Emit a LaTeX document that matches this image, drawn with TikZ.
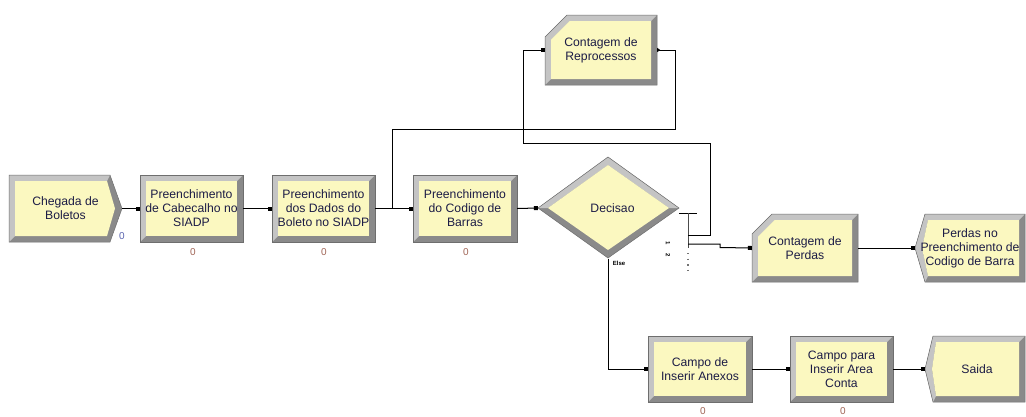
\documentclass[tikz,border=0pt]{standalone}
\usepackage{fontspec}
\setmainfont{Liberation Sans}
\usetikzlibrary{arrows.meta}
\definecolor{yel}{RGB}{251,248,192}
\definecolor{bevlight}{RGB}{196,196,196}
\definecolor{bevdark}{RGB}{138,138,138}
\definecolor{edgec}{RGB}{110,110,110}
\definecolor{txt}{RGB}{28,28,70}
\definecolor{cntred}{RGB}{160,100,85}
\definecolor{cntblue}{RGB}{90,100,175}
\tikzset{
  edge/.style={draw=edgec, line width=0.5pt},
  lab/.style={align=center, font=\fontsize{12.2}{14}\selectfont, text=txt, inner sep=0pt},
  cnt/.style={font=\fontsize{10}{10}\selectfont, text=cntred, inner sep=0pt},
  tiny/.style={font=\fontsize{6}{6}\selectfont\bfseries, text=black, inner sep=0pt},
  conn/.style={draw=black, line width=1pt},
  entry/.style={-{Square[length=4pt,width=4pt]}},
  exitm/.style={{Triangle[reversed,length=3pt,width=4pt]}-},
}
\newcommand\ArRect[4]{%
  \fill[bevdark] (#1,#2) rectangle (#3,#4);
  \fill[bevlight] (#1,#4) -- (#1,#2) -- (#3,#2) -- ({#3-6},{#2+6}) -- ({#1+6},{#2+6}) -- ({#1+6},{#4-6}) -- cycle;
  \fill[yel] ({#1+6},{#2+6}) rectangle ({#3-6},{#4-6});
  \draw[edge] (#1,#2) rectangle (#3,#4);
}
\newcommand\ArRecord[5]{%
  \fill[bevdark] (#1,{#2+#5}) -- ({#1+#5},#2) -- (#3,#2) -- (#3,#4) -- (#1,#4) -- cycle;
  \fill[bevlight] (#1,#4) -- (#1,{#2+#5}) -- ({#1+#5},#2) -- (#3,#2) -- ({#3-6},{#2+6}) -- ({#1+#5+2.5},{#2+6}) -- ({#1+6},{#2+#5+2.5}) -- ({#1+6},{#4-6}) -- cycle;
  \fill[yel] ({#1+6},{#2+#5+2.5}) -- ({#1+#5+2.5},{#2+6}) -- ({#3-6},{#2+6}) -- ({#3-6},{#4-6}) -- ({#1+6},{#4-6}) -- cycle;
  \draw[edge] (#1,{#2+#5}) -- ({#1+#5},#2) -- (#3,#2) -- (#3,#4) -- (#1,#4) -- cycle;
}
\newcommand\ArCreate[5]{%
  \fill[bevdark] (#1,#2) -- (#3,#2) -- ({#3+#5},{(#2+#4)/2}) -- (#3,#4) -- (#1,#4) -- cycle;
  \fill[bevlight] (#1,#4) -- (#1,#2) -- (#3,#2) -- ({#3-3},{#2+6}) -- ({#1+6},{#2+6}) -- ({#1+6},{#4-6}) -- cycle;
  \fill[yel] ({#1+6},{#2+6}) -- ({#3-3},{#2+6}) -- ({#3+#5-7},{(#2+#4)/2}) -- ({#3-3},{#4-6}) -- ({#1+6},{#4-6}) -- cycle;
  \draw[edge] (#1,#2) -- (#3,#2) -- ({#3+#5},{(#2+#4)/2}) -- (#3,#4) -- (#1,#4) -- cycle;
}
\newcommand\ArDispose[5]{%
  \fill[bevdark] (#1,#2) -- (#3,#2) -- (#3,#4) -- (#1,#4) -- ({#1-#5},{(#2+#4)/2}) -- cycle;
  \fill[bevlight] (#1,#4) -- ({#1-#5},{(#2+#4)/2}) -- (#1,#2) -- (#3,#2) -- ({#3-6},{#2+6}) -- ({#1+3},{#2+6}) -- ({#1-#5+7},{(#2+#4)/2}) -- ({#1+3},{#4-6}) -- cycle;
  \fill[yel] ({#1+3},{#2+6}) -- ({#3-6},{#2+6}) -- ({#3-6},{#4-6}) -- ({#1+3},{#4-6}) -- ({#1-#5+7},{(#2+#4)/2}) -- cycle;
  \draw[edge] (#1,#2) -- (#3,#2) -- (#3,#4) -- (#1,#4) -- ({#1-#5},{(#2+#4)/2}) -- cycle;
}
\begin{document}
\begin{tikzpicture}[x=1pt,y=-1pt]
\useasboundingbox[fill=white] (0,0) rectangle (1026,416);

% ---- shapes
\ArCreate{9}{175}{110}{242}{12}
\ArRect{140}{175}{243}{242}
\ArRect{272}{175}{375}{242}
\ArRect{413}{175}{517}{242}
\ArRecord{545}{15}{657}{85}{22}
\ArRecord{752}{214}{858}{282}{20}
\ArDispose{925}{214}{1025}{282}{10}
\ArRect{648}{336}{752}{402}
\ArRect{790}{336}{893}{402}
\ArDispose{933}{336}{1025}{402}{8}
% decision diamond
\fill[bevdark] (538,208) -- (608,157) -- (679,208) -- (608,258) -- cycle;
\fill[bevlight] (538,208) -- (608,157) -- (679,208) -- (669,208) -- (608,165) -- (548,208) -- cycle;
\fill[yel] (548,208) -- (608,165) -- (669,208) -- (608,250) -- cycle;
\draw[edge] (538,208) -- (608,157) -- (679,208) -- (608,258) -- cycle;

% ---- text nodes
\node[lab, minimum width=113pt, minimum height=67pt] (cre) at (65.5,208.5) {Chegada de\\Boletos};
\node[lab, minimum width=103pt, minimum height=67pt] (cab) at (191.5,208.5) {Preenchimento\\de Cabecalho no\\SIADP};
\node[lab, minimum width=103pt, minimum height=67pt] (dad) at (323.5,208.5) {Preenchimento\\dos Dados do\\Boleto no SIADP};
\node[lab, minimum width=104pt, minimum height=67pt] (cod) at (465,208.5) {Preenchimento\\do Codigo de\\Barras};
\node[lab, minimum width=141pt, minimum height=101pt] (dec) at (608.5,208) {\hspace*{8pt}Decisao};
\node[lab, minimum width=112pt, minimum height=70pt] (rep) at (601,50) {Contagem de\\Reprocessos};
\node[lab, minimum width=106pt, minimum height=68pt] (per) at (805,248) {Contagem de\\Perdas};
\node[lab, minimum width=110pt, minimum height=68pt] (dis) at (970,248) {Perdas no\\Preenchimento de\\Codigo de Barra};
\node[lab, minimum width=104pt, minimum height=66pt] (anx) at (700,369) {Campo de\\Inserir Anexos};
\node[lab, minimum width=103pt, minimum height=66pt] (are) at (841.5,369) {Campo para\\Inserir Area\\Conta};
\node[lab, minimum width=100pt, minimum height=66pt] (sai) at (975,369) {\hspace*{4pt}Saida};

% ---- counters
\node[cnt, text=cntblue] (k0) at (122,236) {0};
\node[cnt] (k1) at (193,252) {0};
\node[cnt] (k2) at (324,252) {0};
\node[cnt] (k3) at (466,252) {0};
\node[cnt] (k4) at (703,411) {0};
\node[cnt] (k5) at (843,411) {0};

% ---- decision exit points
\coordinate (sp1) at (679,213);
\coordinate (sp2) at (697,213);
\coordinate (st) at (688,213);
\coordinate (sb) at (688,248);
\coordinate (o1) at (688,235);
\coordinate (o2) at (688,244);
\coordinate (jn) at (392,209);
\draw[line width=0.9pt] (sp1) -- (sp2);
\draw[line width=0.9pt, draw=black!70] (st) -- (sb);
\draw[line width=1.4pt, draw=black!55, dash pattern=on 1.4pt off 4.2pt] (688,253) -- (688,272);
\node[tiny, rotate=-90] (n1) at (668,243) {1};
\node[tiny, rotate=-90] (n2) at (668,255) {2};
\node[tiny] (els) at (619,263) {Else};

% ---- connectors
\draw[conn, exitm, entry] (cre.east) -- (cab.west);
\draw[conn, exitm, entry] (cab.east) -- (dad.west);
\draw[conn, exitm, entry] (dad.east) -- (cod.west);
\draw[conn, exitm, entry] (cod.east) -- (dec.west);
\draw[conn, exitm, entry] (o1) -- (710,235) -- (710,143) -- (523,143) -- (523,50) -- (rep.west);
\draw[conn, exitm] (rep.east) -- (675,50) -- (675,129) -- (392,129) -- (jn);
\draw[conn, exitm, entry] (o2) -- (720,244) -- (720,247.5) -- (per.west);
\draw[conn, exitm, entry] (per.east) -- (dis.west);
\draw[conn, exitm, entry] (dec.south) -- (608.5,369) -- (anx.west);
\draw[conn, exitm, entry] (anx.east) -- (are.west);
\draw[conn, exitm, entry] (are.east) -- (sai.west);
\end{tikzpicture}
\end{document}
